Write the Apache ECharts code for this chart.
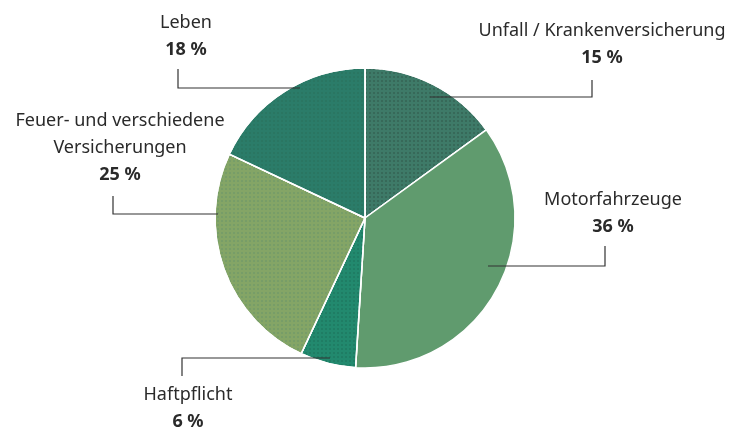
<!DOCTYPE html>
<html>
<head>
<meta charset="utf-8">
<script src="https://cdn.jsdelivr.net/npm/echarts@6/dist/echarts.min.js"></script>
<style>
html,body{margin:0;padding:0;background:#fff;}
#chart{width:745px;height:432px;}
</style>
</head>
<body>
<div id="chart"></div>
<script>
// ---- data ----
const categories = [
  'Unfall / Krankenversicherung',
  'Motorfahrzeuge',
  'Haftpflicht',
  'Feuer- und verschiedene\nVersicherungen',
  'Leben'
];
const shares = [15, 36, 6, 25, 18];

// ---- styling / layout (not data) ----
const colors = ['#3e7a68', '#609b6e', '#22896e', '#84a566', '#2b7c69'];
const dotColors = ['rgba(30,50,40,0.45)', null, 'rgba(20,70,55,0.35)', 'rgba(90,140,110,0.55)', 'rgba(40,100,80,0.5)'];
// label anchor (center) and leader line: [lineStartX, lineY, elbowX, lineEndY]
const labelAnchors = [[602, 44], [613, 213], [188, 408], [120, 148], [186, 36]];
const leaders = [
  [430, 97, 592, 80],
  [488, 266, 605, 246],
  [330, 358, 182, 376],
  [218, 214, 113, 196],
  [300, 88, 178, 69]
];

const chart = echarts.init(document.getElementById('chart'), null, {renderer: 'canvas'});

const pieData = categories.map((c, i) => {
  const item = {
    name: c,
    value: shares[i],
    itemStyle: {color: colors[i]}
  };
  if (dotColors[i]) {
    item.itemStyle.decal = {
      symbol: 'rect',
      symbolSize: 0.5,
      color: dotColors[i],
      dashArrayX: [4, 0],
      dashArrayY: [2, 2],
      rotation: 0
    };
  }
  return item;
});

const labelData = categories.map((c, i) => ({name: c, value: shares[i]}));

const common = {
  type: 'pie',
  center: [365, 218],
  radius: [0, 150],
  startAngle: 90,
  clockwise: true,
  avoidLabelOverlap: false,
  emphasis: {disabled: true},
  silent: true
};

chart.setOption({
  backgroundColor: '#ffffff',
  animation: false,
  series: [
    Object.assign({}, common, {
      z: 1,
      data: pieData,
      itemStyle: {borderColor: '#ffffff', borderWidth: 1.5},
      label: {show: false},
      labelLine: {show: false}
    }),
    Object.assign({}, common, {
      z: 5,
      data: labelData,
      itemStyle: {color: 'rgba(0,0,0,0)', borderWidth: 0},
      label: {
        show: true,
        position: 'outside',
        formatter: p => '{n|' + p.name.split('\n').join('}\n{n|') + '}\n{p|' + p.value + ' %}',
        rich: {
          n: {fontFamily: 'Noto Sans', fontSize: 18, color: '#2a2a2a', lineHeight: 27, align: 'center'},
          p: {fontFamily: 'Noto Sans', fontSize: 18, fontWeight: 'bold', color: '#2a2a2a', lineHeight: 27, align: 'center'}
        }
      },
      labelLine: {show: true, lineStyle: {color: '#333', width: 1.2}},
      labelLayout: function (params) {
        const i = params.dataIndex;
        const a = labelAnchors[i];
        const l = leaders[i];
        return {
          x: a[0],
          y: a[1],
          align: 'center',
          verticalAlign: 'middle',
          labelLinePoints: [[l[0], l[1]], [l[2], l[1]], [l[2], l[3]]]
        };
      }
    })
  ]
});
</script>
</body>
</html>
